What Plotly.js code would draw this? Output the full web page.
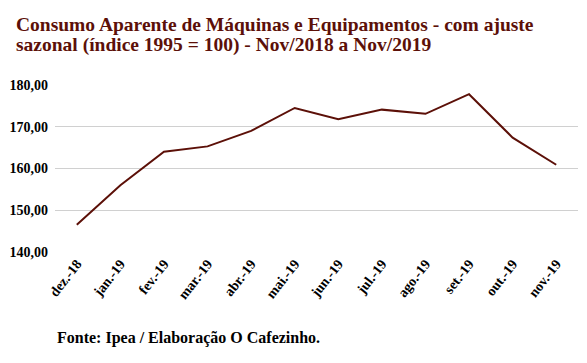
<!DOCTYPE html>
<html><head><meta charset="utf-8">
<script src="https://cdn.plot.ly/plotly-3.0.1.min.js"></script>
<style>html,body{margin:0;padding:0;background:#fff}</style>
</head><body><div id="chart" style="width:587px;height:363px"></div>
<script>
const months = ["dez.-18","jan.-19","fev.-19","mar.-19","abr.-19","mai.-19","jun.-19","jul.-19","ago.-19","set.-19","out.-19","nov.-19"];
const values = [146.5,156.0,164.0,165.3,169.0,174.5,171.8,174.1,173.1,177.8,167.4,160.9];
const yTicks = [140,150,160,170,180];
const titleLines = ["Consumo Aparente de Máquinas e Equipamentos - com ajuste", "sazonal (índice 1995 = 100) - Nov/2018 a Nov/2019"];
const source = "Fonte: Ipea / Elaboração O Cafezinho.";

const font = "Liberation Serif";
const ph = 167, pw = 523;
Plotly.newPlot('chart', [{
  x: months, y: values, type: 'scatter', mode: 'lines',
  line: {color: '#5c1008', width: 2}, hoverinfo: 'skip'
}], {
  width: 587, height: 363,
  margin: {l: 55, r: 9, t: 85, b: 111},
  paper_bgcolor: '#fff', plot_bgcolor: '#fff',
  separators: ',.',
  showlegend: false,
  xaxis: {
    type: 'category', range: [-0.5, 11.5],
    showgrid: false, zeroline: false, showline: false, ticks: '',
    tickangle: -52,
    tickfont: {family: font, size: 14, color: '#000', weight: 'bold'}
  },
  yaxis: {
    range: [140, 180], tickvals: yTicks, tickformat: '.2f',
    showgrid: true, gridcolor: '#d0d0d0', gridwidth: 1,
    zeroline: false, showline: false, ticks: '', ticklabelstandoff: 6,
    tickfont: {family: font, size: 14, color: '#000', weight: 'bold'}
  },
  annotations: [{
    text: "<b>" + titleLines[0] + "</b>",
    xref: 'paper', yref: 'paper', x: -41/pw, y: 1 + (85-12)/ph, xanchor: 'left', yanchor: 'top', align: 'left',
    showarrow: false, font: {family: font, size: 19.5, color: '#5c1008'}
  }, {
    text: "<b>" + titleLines[1] + "</b>",
    xref: 'paper', yref: 'paper', x: -41/pw, y: 1 + (85-32)/ph, xanchor: 'left', yanchor: 'top', align: 'left',
    showarrow: false, font: {family: font, size: 19.5, color: '#5c1008'}
  }, {
    text: "<b>" + source + "</b>",
    xref: 'paper', yref: 'paper', x: 0, y: -86/ph, xanchor: 'left', yanchor: 'middle',
    showarrow: false, font: {family: font, size: 16, color: '#000'}
  }]
}, {displayModeBar: false, staticPlot: true});
</script></body></html>
